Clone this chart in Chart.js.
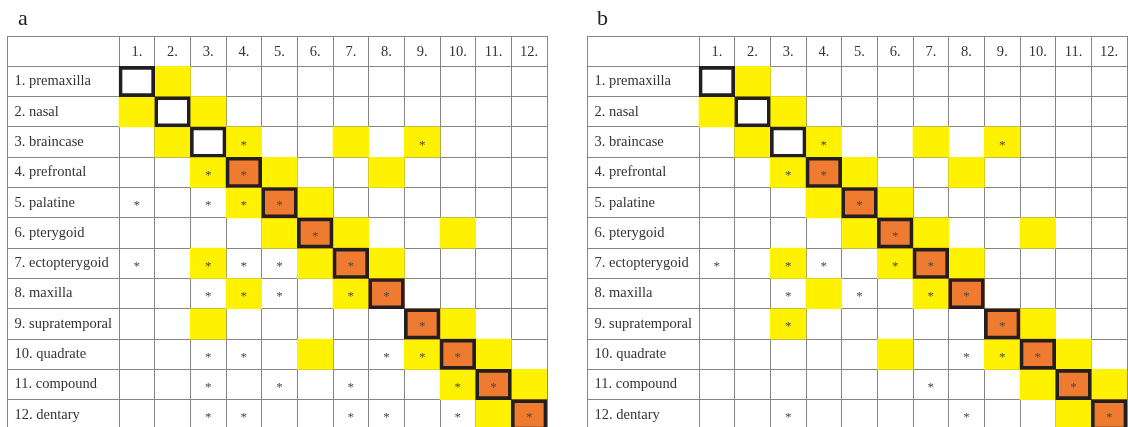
<!DOCTYPE html>
<html>
<head>
<meta charset="utf-8">
<script src="https://cdn.jsdelivr.net/npm/chart.js@4.4.1/dist/chart.umd.min.js"></script>
<style>
  html, body { margin: 0; padding: 0; background: #fff; overflow: hidden; width: 1128px; height: 427px; }
  .panel { position: absolute; top: 0; width: 564px; height: 432px; }
  .panel canvas { display: block; }
  .tag { position: absolute; top: 7px; font: 22px "Liberation Serif", serif; line-height: 22px; color: #222; }
</style>
</head>
<body>
<div class="panel" style="left:0"><div class="tag" style="left:18px">a</div><canvas id="chartA" width="564" height="432"></canvas></div>
<div class="panel" style="left:564px"><div class="tag" style="left:33px">b</div><canvas id="chartB" width="564" height="432"></canvas></div>
<script>
// ---- data ----
const rowLabels = ['1. premaxilla', '2. nasal', '3. braincase', '4. prefrontal', '5. palatine', '6. pterygoid',
  '7. ectopterygoid', '8. maxilla', '9. supratemporal', '10. quadrate', '11. compound', '12. dentary'];
const colLabels = ['1.', '2.', '3.', '4.', '5.', '6.', '7.', '8.', '9.', '10.', '11.', '12.'];

// [row, column], 1-based
const diagonalCells = [[1,1],[2,2],[3,3],[4,4],[5,5],[6,6],[7,7],[8,8],[9,9],[10,10],[11,11],[12,12]];
const orangeCells = [[4,4],[5,5],[6,6],[7,7],[8,8],[9,9],[10,10],[11,11],[12,12]];

const yellowA = [[1,2],[2,1],[2,3],[3,2],[3,4],[3,7],[3,9],[4,3],[4,5],[4,8],[5,4],[5,6],[6,5],[6,7],[6,10],
  [7,3],[7,6],[7,8],[8,4],[8,7],[9,3],[9,10],[10,6],[10,9],[10,11],[11,10],[11,12],[12,11]];
const starA = [[3,4],[3,9],[4,3],[4,4],[5,1],[5,3],[5,4],[5,5],[6,6],[7,1],[7,3],[7,4],[7,5],[7,7],
  [8,3],[8,4],[8,5],[8,7],[8,8],[9,9],[10,3],[10,4],[10,8],[10,9],[10,10],[11,3],[11,5],[11,7],[11,10],[11,11],
  [12,3],[12,4],[12,7],[12,8],[12,10],[12,12]];

const yellowB = [[1,2],[2,1],[2,3],[3,2],[3,4],[3,7],[3,9],[4,3],[4,5],[4,8],[5,4],[5,6],[6,5],[6,7],[6,10],
  [7,3],[7,6],[7,8],[8,4],[8,7],[9,3],[9,10],[10,6],[10,9],[10,11],[11,10],[11,12],[12,11]];
const starB = [[3,4],[3,9],[4,3],[4,4],[5,5],[6,6],[7,1],[7,3],[7,4],[7,6],[7,7],[8,3],[8,5],[8,7],[8,8],
  [9,3],[9,9],[10,8],[10,9],[10,10],[11,7],[11,11],[12,3],[12,8],[12,12]];

// ---- styling ----
const YELLOW = '#fff200';
const ORANGE = '#ee7b30';
const FRAME = '#231f20';
const GRID = '#858585';
const TEXT = '#333333';
const FONT = '"Liberation Serif", "Times New Roman", serif';
const LABEL_COL_UNITS = 112 / (428 / 12); // width of the label column, in column units

Chart.defaults.font.family = FONT;
Chart.defaults.color = TEXT;

const yCats = [''].concat(rowLabels);
const toBars = cells => cells.map(([r, c]) => ({ y: rowLabels[r - 1], x: [c - 0.5, c + 0.5] }));
const toPoints = cells => cells.map(([r, c]) => ({ y: rowLabels[r - 1], x: c }));

const zeroPad = s => { s.paddingTop = 0; s.paddingBottom = 0; s.paddingLeft = 0; s.paddingRight = 0; };

const starPlugin = {
  id: 'stars',
  afterDatasetsDraw(chart) {
    const ctx = chart.ctx;
    chart.data.datasets.forEach((ds, i) => {
      if (!ds.isStars) return;
      const meta = chart.getDatasetMeta(i);
      ctx.save();
      ctx.font = '13px ' + FONT;
      ctx.fillStyle = '#4a4a4a';
      ctx.textAlign = 'center';
      ctx.textBaseline = 'alphabetic';
      meta.data.forEach(p => ctx.fillText('*', p.x, p.y + 6.5));
      ctx.restore();
    });
  }
};

function buildChart(id, yellow, stars, padLeft, padRight) {
  const xMin = 0.5 - LABEL_COL_UNITS, xMax = 12.5;
  const boundaries = [xMin];
  for (let c = 0; c <= 12; c++) boundaries.push(c + 0.5);
  new Chart(document.getElementById(id), {
    type: 'bar',
    data: {
      labels: yCats,
      datasets: [
        { label: 'stars', type: 'scatter', isStars: true, data: toPoints(stars),
          xAxisID: 'x', yAxisID: 'y', pointRadius: 0, pointHoverRadius: 0, order: 0 },
        { label: 'frame', data: toBars(diagonalCells), indexAxis: 'y', xAxisID: 'x', yAxisID: 'y',
          backgroundColor: 'rgba(0,0,0,0)', borderColor: FRAME, borderWidth: 3, borderSkipped: false,
          grouped: false, barPercentage: 1, categoryPercentage: 1, order: 1 },
        { label: 'orange', data: toBars(orangeCells), indexAxis: 'y', xAxisID: 'x', yAxisID: 'y',
          backgroundColor: ORANGE, borderWidth: 0, grouped: false, barPercentage: 1, categoryPercentage: 1, order: 2 },
        { label: 'yellow', data: toBars(yellow), indexAxis: 'y', xAxisID: 'x', yAxisID: 'y',
          backgroundColor: YELLOW, borderWidth: 0, grouped: false, barPercentage: 1, categoryPercentage: 1, order: 3 }
      ]
    },
    options: {
      indexAxis: 'y',
      responsive: false,
      animation: false,
      events: [],
      layout: { padding: { left: padLeft, right: padRight, top: 36, bottom: 2 }, autoPadding: false },
      plugins: { legend: { display: false }, tooltip: { enabled: false }, title: { display: false } },
      scales: {
        x: {
          type: 'linear', position: 'bottom', min: xMin, max: xMax, offset: false, beginAtZero: false,
          afterBuildTicks: s => { s.ticks = boundaries.map(v => ({ value: v })); },
          afterFit: s => { s.height = 0; zeroPad(s); },
          ticks: { display: false },
          grid: { color: GRID, lineWidth: 1, drawTicks: false, offset: false },
          border: { display: false }
        },
        xl: {
          type: 'linear', position: 'top', min: xMin, max: xMax, offset: false, beginAtZero: false,
          afterBuildTicks: s => { s.ticks = colLabels.map((_, i) => ({ value: i + 1 })); },
          afterFit: s => { s.height = 0; zeroPad(s); },
          ticks: { mirror: true, padding: 7, autoSkip: false, maxRotation: 0, color: TEXT,
                   font: { size: 14.5 }, callback: (v, i) => colLabels[i] },
          grid: { display: false, drawTicks: false },
          border: { display: false }
        },
        y: {
          type: 'category', position: 'left', offset: true,
          afterFit: s => { s.width = 0; zeroPad(s); },
          ticks: { mirror: true, padding: 7.5, autoSkip: false, color: TEXT, font: { size: 14.5 } },
          grid: { color: GRID, lineWidth: 1, drawTicks: false, offset: true },
          border: { display: false }
        }
      }
    },
    plugins: [starPlugin]
  });
}

buildChart('chartA', yellowA, starA, 7, 17);
buildChart('chartB', yellowB, starB, 23, 1);
</script>
</body>
</html>
